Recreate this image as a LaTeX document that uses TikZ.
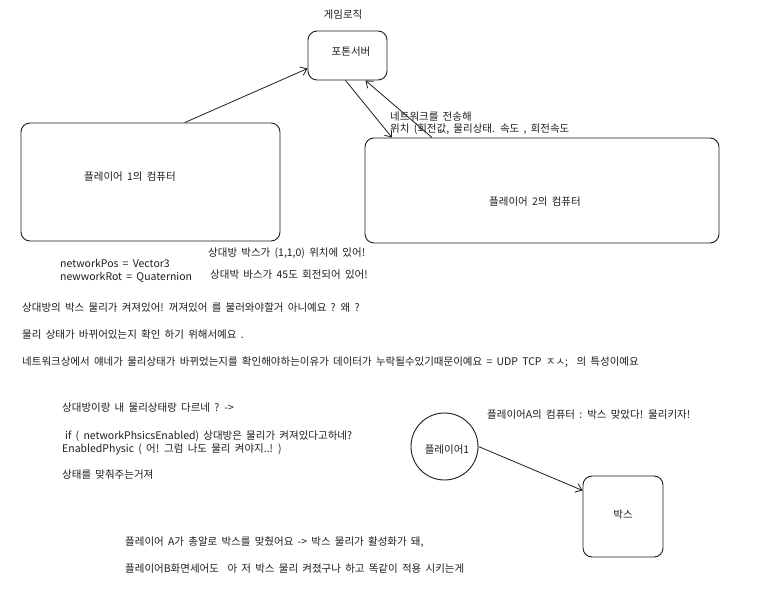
\documentclass[tikz,border=0pt]{standalone}
\usepackage{fontspec}
\setmainfont[WordSpace=1.8]{Noto Sans CJK KR}
\usetikzlibrary{arrows.meta}
\definecolor{ink}{HTML}{1E1E1E}
\begin{document}
\begin{tikzpicture}[x=1pt,y=-1pt,
  box/.style={draw=ink,line width=0.9pt,rounded corners=9pt,inner sep=0pt},
  txt/.style={inner sep=0pt,font=\fontsize{10.5}{12}\selectfont,text=ink},
  lt/.style={txt,anchor=west},
  arr/.style={draw=ink,line width=0.8pt,-{Straight Barb[length=6pt,width=9pt]}}]
\useasboundingbox[fill=white] (0,0) rectangle (758,609);
% boxes
\node[box,minimum width=79pt,minimum height=49pt] (srv) at (347.5,55.5) {};
\node[box,minimum width=259pt,minimum height=118pt] (p1) at (150.5,182) {};
\node[box,minimum width=354pt,minimum height=105pt] (p2) at (542,190.5) {};
\node[draw=ink,line width=0.9pt,circle,minimum size=67pt,inner sep=0pt] (pl) at (444.5,446.5) {};
\node[box,minimum width=80pt,minimum height=81pt] (bx) at (623,516.5) {};
% arrows
\draw[arr] (p1.60) -- (srv.198);
\draw[arr] ([xshift=-2pt]srv.south) -- ([xshift=-150pt]p2.north);
\draw[arr] ([xshift=-110pt]p2.north) -- ([xshift=18pt]srv.south);
\draw[arr] (pl.east) -- ([yshift=26pt]bx.west);
% texts
\node[txt] (title) at (343,15) {게임로직};
\node[txt] (srvt) at (351,52) {포톤서버};
\node[lt] (net1) at (390,117) {네트워크를 전송해};
\node[lt] (net2) at (390,129) {위치 (회전값, 물리상태. 속도 , 회전속도};
\node[txt] (p1t) at (130,177) {플레이어 1의 컴퓨터};
\node[txt] (p2t) at (535,202) {플레이어 2의 컴퓨터};
\node[lt] (s1) at (208,253) {상대방 박스가 (1,1,0) 위치에 있어!};
\node[lt] (s2) at (210,275) {상대박 바스가 45도 회전되어 있어!};
\node[lt] (c1) at (60,263) {networkPos = Vector3};
\node[lt] (c2) at (60,277) {newworkRot = Quaternion};
\node[lt] (q1) at (22,308) {상대방의 박스 물리가 켜져있어! 꺼져있어 를 불러와야할거 아니예요 ? 왜 ?};
\node[lt] (q2) at (22,335) {물리 상태가 바뀌어있는지 확인 하기 위해서예요 .};
\node[lt] (q3) at (22,362) {네트워크상에서 얘네가 물리상태가 바뀌었는지를 확인해야하는이유가 데이터가 누락될수있기때문이예요 = UDP TCP ㅈㅅ;\ \ 의 특성이예요};
\node[lt] (d1) at (62,408) {상대방이랑 내 물리상태랑 다르네 ? ->};
\node[lt] (d2) at (65,436) {if ( networkPhsicsEnabled) 상대방은 물리가 켜져있다고하네?};
\node[lt] (d3) at (62,449) {EnabledPhysic ( 어! 그럼 나도 물리 켜야지..! )};
\node[lt] (d4) at (62,475) {상태를 맞춰주는거져};
\node[lt] (pa) at (487,415) {플레이어A의 컴퓨터 : 박스 맞았다! 물리키자!};
\node[txt] (plt) at (447,450) {플레이어1};
\node[txt] (bxt) at (623,515) {박스};
\node[lt] (e1) at (125,542) {플레이어 A가 총알로 박스를 맞췄어요 -> 박스 물리가 활성화가 돼,};
\node[lt] (e2) at (125,569) {플레이어B화면세어도\ \ 아 저 박스 물리 켜졌구나 하고 똑같이 적용 시키는게};
\end{tikzpicture}
\end{document}
